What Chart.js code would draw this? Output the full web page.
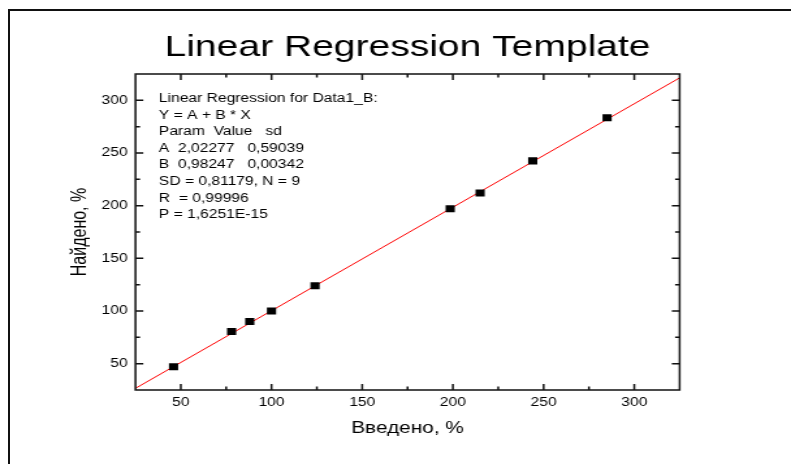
<!DOCTYPE html>
<html>
<head>
<meta charset="utf-8">
<script src="https://cdn.jsdelivr.net/npm/chart.js@4"></script>
<style>
  html, body { margin: 0; padding: 0; background: #fff; overflow: hidden; }
  #ramka { position: absolute; left: 8px; top: 9px; width: 800px; height: 470px;
           border-left: 2px solid #111; border-top: 2px solid #111; }
  #chart { position: absolute; left: 0; top: 0; }
</style>
</head>
<body>
<div id="ramka"></div>
<!-- original picture is stretched sideways, so the canvas is too -->
<canvas id="chart" width="608" height="464" style="width:791px;height:464px"></canvas>
<script>
// measured points
const vvedeno = [46, 78, 88, 100, 124, 198.5, 215, 244, 285];
const naideno = [47, 80.5, 90, 100, 124, 197, 212, 242.5, 283.5];

// fit Y = A + B * X
const paramA = 2.02277;
const paramB = 0.98247;
const lineX = [25, 325];

const xTicks = [50, 100, 150, 200, 250, 300];
const yTicks = [50, 100, 150, 200, 250, 300];
const minorTicks = [75, 125, 175, 225, 275];

const statLines = [
  "Linear Regression for Data1_B:",
  "Y = A + B * X",
  "Param  Value   sd",
  "A  2,02277   0,59039",
  "B  0,98247   0,00342",
  "SD = 0,81179, N = 9",
  "R  = 0,99996",
  "P = 1,6251E-15"
];

const FONT = "'Liberation Sans', Arial, sans-serif";

// frame with inward ticks on all four sides + the stats text
const ramkaPlugin = {
  id: 'ramkaPlugin',
  afterDraw(chart) {
    const ctx = chart.ctx;
    const a = chart.chartArea;
    const xs = chart.scales.x, ys = chart.scales.y;
    ctx.save();
    ctx.strokeStyle = '#111';
    ctx.lineWidth = 1.5;
    ctx.strokeRect(a.left, a.top, a.right - a.left, a.bottom - a.top);

    ctx.beginPath();
    const tick = (vals, len) => {
      vals.forEach(v => {
        const px = xs.getPixelForValue(v);
        ctx.moveTo(px, a.bottom); ctx.lineTo(px, a.bottom - len);
        ctx.moveTo(px, a.top); ctx.lineTo(px, a.top + len);
      });
    };
    const tickY = (vals, len) => {
      vals.forEach(v => {
        const py = ys.getPixelForValue(v);
        ctx.moveTo(a.left, py); ctx.lineTo(a.left + len, py);
        ctx.moveTo(a.right, py); ctx.lineTo(a.right - len, py);
      });
    };
    tick(xTicks, 6);
    tick(minorTicks, 3.5);
    tickY(yTicks, 6);
    tickY(minorTicks, 3.5);
    ctx.stroke();

    ctx.fillStyle = '#000';
    ctx.font = '12px ' + FONT;
    ctx.textBaseline = 'middle';
    ctx.textAlign = 'left';
    statLines.forEach((s, i) => {
      ctx.fillText(s, a.left + 18, a.top + 24.6 + i * 16.6);
    });
    ctx.restore();
  }
};

new Chart(document.getElementById('chart'), {
  type: 'scatter',
  data: {
    datasets: [
      {
        data: vvedeno.map((x, i) => ({x: x, y: naideno[i]})),
        pointStyle: 'rect',
        pointRadius: 5,
        backgroundColor: '#000',
        borderColor: '#000',
        borderWidth: 0
      },
      {
        type: 'line',
        data: lineX.map(x => ({x: x, y: paramA + paramB * x})),
        borderColor: '#ff0000',
        borderWidth: 1,
        pointRadius: 0,
        fill: false
      }
    ]
  },
  options: {
    responsive: false,
    animation: false,
    events: [],
    layout: {padding: {top: 10, left: 40, right: 85.6, bottom: 21.4}},
    plugins: {
      legend: {display: false},
      tooltip: {enabled: false},
      title: {
        display: true,
        text: 'Linear Regression Template',
        fullSize: false,
        color: '#000',
        font: {family: FONT, size: 30, weight: 'normal'},
        padding: {top: 20, bottom: 8}
      }
    },
    scales: {
      x: {
        type: 'linear',
        min: 25,
        max: 325,
        afterBuildTicks: axis => { axis.ticks = xTicks.map(v => ({value: v})); },
        grid: {display: false, drawTicks: false},
        border: {display: false},
        ticks: {color: '#000', padding: 5, font: {family: FONT, size: 12}},
        title: {
          display: true,
          text: 'Введено, %',
          color: '#000',
          font: {family: FONT, size: 16},
          padding: {top: 5, bottom: 4}
        }
      },
      y: {
        type: 'linear',
        min: 25,
        max: 325,
        afterBuildTicks: axis => { axis.ticks = yTicks.map(v => ({value: v})); },
        grid: {display: false, drawTicks: false},
        border: {display: false},
        ticks: {color: '#000', padding: 6, font: {family: FONT, size: 12}},
        title: {
          display: true,
          text: 'Найдено, %',
          color: '#000',
          font: {family: FONT, size: 16},
          padding: {top: 12.4, bottom: 0.5}
        }
      }
    }
  },
  plugins: [ramkaPlugin]
});
</script>
</body>
</html>
